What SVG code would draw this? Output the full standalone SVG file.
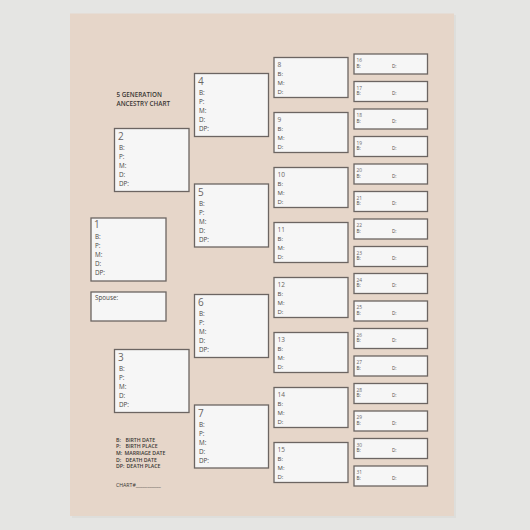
<svg xmlns="http://www.w3.org/2000/svg" width="530" height="530" viewBox="0 0 530 530">
<style>
.bx{fill:#f6f6f6;stroke:#6c6562;stroke-width:1.3}
.t{font-family:"Open Sans","Liberation Sans",sans-serif;fill:#4a4644}
.n{font-size:10px;fill:#6a6563}
.l{font-size:6.3px}
.n2{font-size:6.5px;fill:#6a6563}
.l2{font-size:6px}
.n3{font-size:4.8px;fill:#6a6563}
.l3{font-size:4.6px}
.h{font-size:6.3px;font-weight:600;fill:#3a3634}
.g{font-size:5.2px;font-weight:600;fill:#3a3634}
</style>
<rect x="0" y="0" width="530" height="530" fill="#e5e5e3"/>
<rect x="72" y="15" width="384" height="503" fill="#d9d9d6" opacity="0.6"/>
<rect x="70" y="13.5" width="384" height="502.5" fill="#e6d6c9"/>
<g id="title" class="t">
<text class="h" x="116.5" y="97.3">5 GENERATION</text>
<text class="h" x="116.5" y="106">ANCESTRY CHART</text>
</g>
<g id="legend" class="t">
<text class="g" x="116" y="441.7">B:</text><text class="g" x="125.5" y="441.7">BIRTH DATE</text>
<text class="g" x="116" y="448.3">P:</text><text class="g" x="125.5" y="448.3">BIRTH PLACE</text>
<text class="g" x="116" y="455">M:</text><text class="g" x="124.5" y="455">MARRIAGE DATE</text>
<text class="g" x="116" y="461.7">D:</text><text class="g" x="125.5" y="461.7">DEATH DATE</text>
<text class="g" x="116" y="468.3">DP:</text><text class="g" x="126.5" y="468.3">DEATH PLACE</text>
<text class="g" x="116" y="487.3" style="font-weight:400">CHART#___________</text>
</g>
<g id="p1" class="t"><rect class="bx" x="91" y="218" width="75" height="63"/><text class="n" x="94" y="228">1</text><text class="l" x="95" y="239">B:</text><text class="l" x="95" y="248">P:</text><text class="l" x="95" y="257">M:</text><text class="l" x="95" y="266">D:</text><text class="l" x="95" y="275">DP:</text></g>
<g id="spouse" class="t"><rect class="bx" x="91" y="292" width="75" height="29"/><text class="l" x="95" y="300">Spouse:</text></g>
<g id="p2" class="t"><rect class="bx" x="114.5" y="128.5" width="74.5" height="63"/><text class="n" x="118" y="140">2</text><text class="l" x="119" y="150">B:</text><text class="l" x="119" y="159">P:</text><text class="l" x="119" y="168">M:</text><text class="l" x="119" y="177">D:</text><text class="l" x="119" y="186">DP:</text></g>
<g id="p3" class="t"><rect class="bx" x="114.5" y="349.5" width="74.5" height="63"/><text class="n" x="118" y="361">3</text><text class="l" x="119" y="371">B:</text><text class="l" x="119" y="380">P:</text><text class="l" x="119" y="389">M:</text><text class="l" x="119" y="398">D:</text><text class="l" x="119" y="407">DP:</text></g>
<g id="p4" class="t"><rect class="bx" x="194.5" y="73.5" width="74" height="63"/><text class="n" x="198" y="85">4</text><text class="l" x="199" y="95">B:</text><text class="l" x="199" y="104">P:</text><text class="l" x="199" y="113">M:</text><text class="l" x="199" y="122">D:</text><text class="l" x="199" y="131">DP:</text></g>
<g id="p5" class="t"><rect class="bx" x="194.5" y="184" width="74" height="63"/><text class="n" x="198" y="196">5</text><text class="l" x="199" y="206">B:</text><text class="l" x="199" y="215">P:</text><text class="l" x="199" y="224">M:</text><text class="l" x="199" y="233">D:</text><text class="l" x="199" y="242">DP:</text></g>
<g id="p6" class="t"><rect class="bx" x="194.5" y="294.5" width="74" height="63"/><text class="n" x="198" y="306">6</text><text class="l" x="199" y="316">B:</text><text class="l" x="199" y="325">P:</text><text class="l" x="199" y="334">M:</text><text class="l" x="199" y="343">D:</text><text class="l" x="199" y="352">DP:</text></g>
<g id="p7" class="t"><rect class="bx" x="194.5" y="405" width="74" height="63"/><text class="n" x="198" y="417">7</text><text class="l" x="199" y="427">B:</text><text class="l" x="199" y="436">P:</text><text class="l" x="199" y="445">M:</text><text class="l" x="199" y="454">D:</text><text class="l" x="199" y="463">DP:</text></g>
<g id="p8" class="t"><rect class="bx" x="274" y="57.5" width="74" height="40"/><text class="n2" x="277.5" y="66.5">8</text><text class="l2" x="277.5" y="75.5">B:</text><text class="l2" x="277.5" y="85">M:</text><text class="l2" x="277.5" y="94">D:</text></g>
<g id="p9" class="t"><rect class="bx" x="274" y="112.5" width="74" height="40"/><text class="n2" x="277.5" y="121.5">9</text><text class="l2" x="277.5" y="130.5">B:</text><text class="l2" x="277.5" y="140">M:</text><text class="l2" x="277.5" y="149">D:</text></g>
<g id="p10" class="t"><rect class="bx" x="274" y="167.5" width="74" height="40"/><text class="n2" x="277.5" y="176.5">10</text><text class="l2" x="277.5" y="185.5">B:</text><text class="l2" x="277.5" y="195">M:</text><text class="l2" x="277.5" y="204">D:</text></g>
<g id="p11" class="t"><rect class="bx" x="274" y="222.5" width="74" height="40"/><text class="n2" x="277.5" y="231.5">11</text><text class="l2" x="277.5" y="240.5">B:</text><text class="l2" x="277.5" y="250">M:</text><text class="l2" x="277.5" y="259">D:</text></g>
<g id="p12" class="t"><rect class="bx" x="274" y="277.5" width="74" height="40"/><text class="n2" x="277.5" y="286.5">12</text><text class="l2" x="277.5" y="295.5">B:</text><text class="l2" x="277.5" y="305">M:</text><text class="l2" x="277.5" y="314">D:</text></g>
<g id="p13" class="t"><rect class="bx" x="274" y="332.5" width="74" height="40"/><text class="n2" x="277.5" y="341.5">13</text><text class="l2" x="277.5" y="350.5">B:</text><text class="l2" x="277.5" y="360">M:</text><text class="l2" x="277.5" y="369">D:</text></g>
<g id="p14" class="t"><rect class="bx" x="274" y="387.5" width="74" height="40"/><text class="n2" x="277.5" y="396.5">14</text><text class="l2" x="277.5" y="405.5">B:</text><text class="l2" x="277.5" y="415">M:</text><text class="l2" x="277.5" y="424">D:</text></g>
<g id="p15" class="t"><rect class="bx" x="274" y="442.5" width="74" height="40"/><text class="n2" x="277.5" y="451.5">15</text><text class="l2" x="277.5" y="460.5">B:</text><text class="l2" x="277.5" y="470">M:</text><text class="l2" x="277.5" y="479">D:</text></g>
<g id="p16" class="t"><rect class="bx" x="354" y="54" width="73.5" height="20"/><text class="n3" x="356.5" y="62">16</text><text class="l3" x="356.5" y="67.5">B:</text><text class="l3" x="392" y="67.5">D:</text></g>
<g id="p17" class="t"><rect class="bx" x="354" y="81.5" width="73.5" height="20"/><text class="n3" x="356.5" y="89.5">17</text><text class="l3" x="356.5" y="95">B:</text><text class="l3" x="392" y="95">D:</text></g>
<g id="p18" class="t"><rect class="bx" x="354" y="109" width="73.5" height="20"/><text class="n3" x="356.5" y="117">18</text><text class="l3" x="356.5" y="122.5">B:</text><text class="l3" x="392" y="122.5">D:</text></g>
<g id="p19" class="t"><rect class="bx" x="354" y="136.5" width="73.5" height="20"/><text class="n3" x="356.5" y="144.5">19</text><text class="l3" x="356.5" y="150">B:</text><text class="l3" x="392" y="150">D:</text></g>
<g id="p20" class="t"><rect class="bx" x="354" y="164" width="73.5" height="20"/><text class="n3" x="356.5" y="172">20</text><text class="l3" x="356.5" y="177.5">B:</text><text class="l3" x="392" y="177.5">D:</text></g>
<g id="p21" class="t"><rect class="bx" x="354" y="191.5" width="73.5" height="20"/><text class="n3" x="356.5" y="199.5">21</text><text class="l3" x="356.5" y="205">B:</text><text class="l3" x="392" y="205">D:</text></g>
<g id="p22" class="t"><rect class="bx" x="354" y="219" width="73.5" height="20"/><text class="n3" x="356.5" y="227">22</text><text class="l3" x="356.5" y="232.5">B:</text><text class="l3" x="392" y="232.5">D:</text></g>
<g id="p23" class="t"><rect class="bx" x="354" y="246.5" width="73.5" height="20"/><text class="n3" x="356.5" y="254.5">23</text><text class="l3" x="356.5" y="260">B:</text><text class="l3" x="392" y="260">D:</text></g>
<g id="p24" class="t"><rect class="bx" x="354" y="273.5" width="73.5" height="20"/><text class="n3" x="356.5" y="281.5">24</text><text class="l3" x="356.5" y="287">B:</text><text class="l3" x="392" y="287">D:</text></g>
<g id="p25" class="t"><rect class="bx" x="354" y="301" width="73.5" height="20"/><text class="n3" x="356.5" y="309">25</text><text class="l3" x="356.5" y="314.5">B:</text><text class="l3" x="392" y="314.5">D:</text></g>
<g id="p26" class="t"><rect class="bx" x="354" y="328.5" width="73.5" height="20"/><text class="n3" x="356.5" y="336.5">26</text><text class="l3" x="356.5" y="342">B:</text><text class="l3" x="392" y="342">D:</text></g>
<g id="p27" class="t"><rect class="bx" x="354" y="356" width="73.5" height="20"/><text class="n3" x="356.5" y="364">27</text><text class="l3" x="356.5" y="369.5">B:</text><text class="l3" x="392" y="369.5">D:</text></g>
<g id="p28" class="t"><rect class="bx" x="354" y="383.5" width="73.5" height="20"/><text class="n3" x="356.5" y="391.5">28</text><text class="l3" x="356.5" y="397">B:</text><text class="l3" x="392" y="397">D:</text></g>
<g id="p29" class="t"><rect class="bx" x="354" y="411" width="73.5" height="20"/><text class="n3" x="356.5" y="419">29</text><text class="l3" x="356.5" y="424.5">B:</text><text class="l3" x="392" y="424.5">D:</text></g>
<g id="p30" class="t"><rect class="bx" x="354" y="438.5" width="73.5" height="20"/><text class="n3" x="356.5" y="446.5">30</text><text class="l3" x="356.5" y="452">B:</text><text class="l3" x="392" y="452">D:</text></g>
<g id="p31" class="t"><rect class="bx" x="354" y="466" width="73.5" height="20"/><text class="n3" x="356.5" y="474">31</text><text class="l3" x="356.5" y="479.5">B:</text><text class="l3" x="392" y="479.5">D:</text></g>
<g id="connectors"></g>
</svg>
